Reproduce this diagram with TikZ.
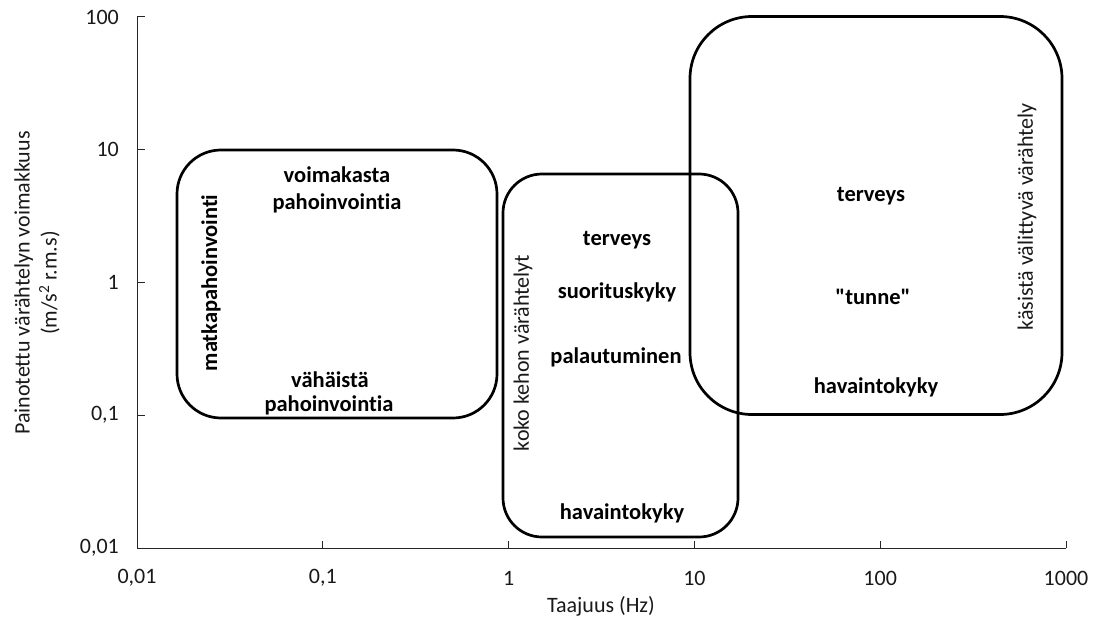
\documentclass[tikz,border=0pt]{standalone}
\usepackage{fontspec}
\setmainfont{Carlito}[Ligatures={TeXOff,NoCommon}]
\begin{document}
\begin{tikzpicture}[x=1pt,y=-1pt,
  lbl/.style={font=\fontsize{22}{26}\selectfont, inner sep=0pt, text=black!90},
  blbl/.style={font=\fontsize{22.5}{26}\selectfont\bfseries, inner sep=0pt, align=center},
  zone/.style={draw=black, line width=2.7pt, inner sep=0pt, outer sep=0pt},
  axisline/.style={draw=black!85, line width=1pt},
  ]
\useasboundingbox (0,0) rectangle (1099,628);
% axes
\coordinate (o) at (137,548);
\coordinate (xe) at (1066,548);
\coordinate (ye) at (137,17);
\draw[axisline] (ye) -- (o) -- (xe);
\foreach \i/\lab in {0/{0,01},1/{0,1},2/{1},3/{10},4/{100},5/{1000}}{
  \coordinate (xt\i) at ({137+\i*185.8},548);
  \coordinate (xu\i) at ({137+\i*185.8},541);
  \ifnum\i>0 \draw[axisline] (xt\i) -- (xu\i); \fi
  \node[lbl, anchor=center] (xl\i) at ({137+\i*185.8},578) {\lab};
}
\foreach \j/\lab in {0/{0,01},1/{0,1},2/{1},3/{10},4/{100}}{
  \coordinate (yt\j) at (137,{548-\j*132.75});
  \coordinate (yu\j) at (145,{548-\j*132.75});
  \ifnum\j>0 \draw[axisline] (yt\j) -- (yu\j); \fi
  \node[lbl, anchor=east] (yl\j) at (119,{548-\j*132.75}) {\lab};
}
\node[lbl] (xtitle) at (601,606) {Taajuus (Hz)};
\node[lbl, rotate=90, align=center, font=\fontsize{22}{27}\selectfont] (ytitle) at (37,283)
  {Painotettu värähtelyn voimakkuus\\(m/s\textsuperscript{2} r.m.s)};
% zones
\node[zone, minimum width=320, minimum height=268, rounded corners=44] (b1) at (337,284) {};
\node[zone, minimum width=235, minimum height=363, rounded corners=39] (b2) at (620.5,355.5) {};
\node[zone, minimum width=372, minimum height=398, rounded corners=62] (b3) at (876,215.5) {};
% box 1 texts
\node[blbl] (t1a) at (337,175) {voimakasta};
\node[blbl] (t1b) at (337,203) {pahoinvointia};
\node[blbl] (t1c) at (330,380) {vähäistä};
\node[blbl] (t1d) at (329,405) {pahoinvointia};
\node[blbl, rotate=90] (t1r) at (211,283) {matkapahoinvointi};
% box 2 texts
\node[blbl] (t2a) at (617,240) {terveys};
\node[blbl] (t2b) at (617,292) {suorituskyky};
\node[blbl] (t2c) at (616,357) {palautuminen};
\node[blbl] (t2d) at (622,513) {havaintokyky};
\node[lbl, rotate=90] (t2r) at (523,353) {koko kehon värähtelyt};
% box 3 texts
\node[blbl] (t3a) at (871,196) {terveys};
\node[blbl] (t3b) at (873,297) {"tunne"};
\node[blbl] (t3c) at (876,387) {havaintokyky};
\node[lbl, rotate=90] (t3r) at (1027,217) {käsistä välittyvä värähtely};
\end{tikzpicture}
\end{document}
